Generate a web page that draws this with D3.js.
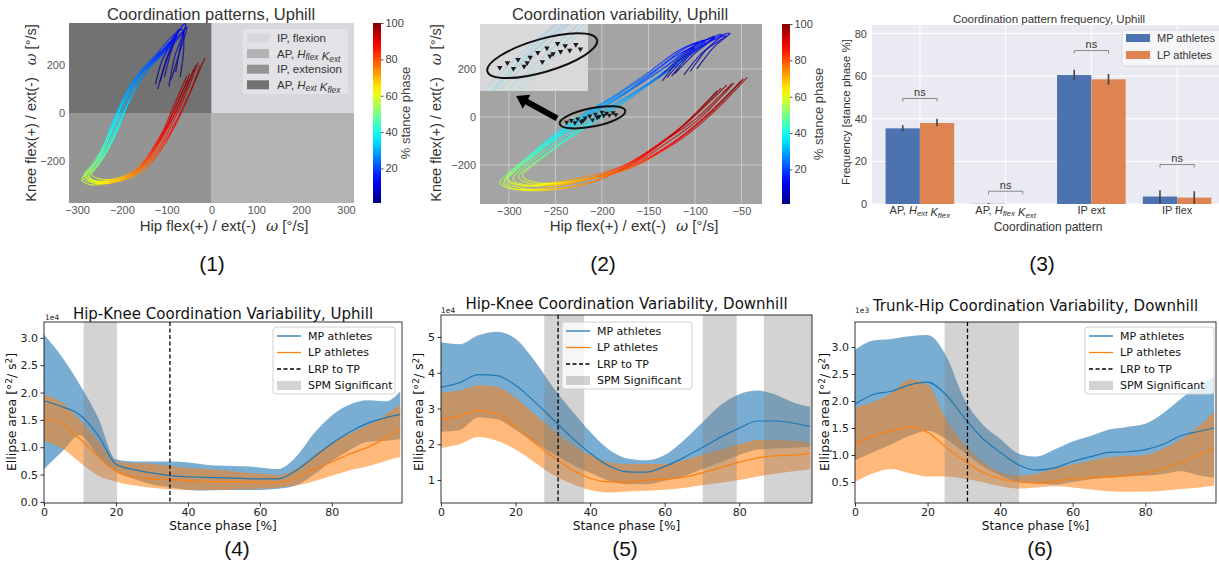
<!DOCTYPE html>
<html>
<head>
<meta charset="utf-8">
<script src="https://cdn.jsdelivr.net/npm/d3@7"></script>
<style>
  body { margin: 0; background: #fff; }
  svg { display: block; }
</style>
</head>
<body>
<svg id="fig" width="1219" height="563"></svg>
<script>
"use strict"
// ---------------- data ----------------
// (1) and (2): stance phase of every sampled point along a trajectory
var trajPhase = [0, 5, 10, 15, 20, 25, 30, 35, 40, 45, 50, 55, 60, 65, 70, 75, 80, 85, 90, 95, 100];

// (1) hip / knee angular velocity [deg/s], uphill, one list per stride
var patternStrides = [
    [[-120,100],[-100,220],[-72,350],[-85,300],[-125,225],[-158,160],[-185,75],[-205,-10],[-222,-95],[-242,-168],[-266,-228],[-283,-262],[-265,-284],[-232,-286],[-198,-272],[-168,-244],[-142,-196],[-118,-128],[-94,-48],[-66,60],[-40,180]],
    [[-90,140],[-70,260],[-55,360],[-70,320],[-105,250],[-140,185],[-170,100],[-192,15],[-210,-70],[-230,-150],[-252,-215],[-268,-255],[-248,-276],[-215,-274],[-182,-258],[-150,-225],[-122,-168],[-96,-92],[-70,0],[-42,110],[-15,230]],
    [[-125,120],[-112,210],[-90,300],[-108,265],[-148,195],[-180,120],[-205,30],[-222,-45],[-238,-125],[-255,-195],[-276,-245],[-290,-278],[-272,-298],[-240,-296],[-208,-282],[-180,-256],[-155,-212],[-130,-145],[-106,-65],[-82,40],[-55,155]],
    [[-80,170],[-68,290],[-58,375],[-78,330],[-115,240],[-148,165],[-176,78],[-196,-5],[-214,-88],[-236,-165],[-258,-228],[-272,-266],[-252,-290],[-222,-290],[-188,-274],[-158,-248],[-130,-198],[-104,-128],[-78,-40],[-50,75],[-25,200]],
    [[-105,150],[-92,245],[-78,330],[-100,270],[-140,200],[-170,135],[-196,50],[-214,-28],[-230,-108],[-250,-180],[-272,-238],[-287,-270],[-268,-290],[-238,-290],[-204,-276],[-174,-248],[-148,-202],[-124,-135],[-100,-55],[-74,50],[-48,165]],
    [[-95,110],[-82,235],[-62,340],[-80,305],[-118,230],[-152,158],[-180,70],[-200,-12],[-217,-92],[-237,-165],[-260,-226],[-276,-262],[-256,-284],[-226,-284],[-192,-270],[-160,-240],[-134,-188],[-108,-116],[-84,-30],[-56,85],[-30,210]],
    [[-115,130],[-98,240],[-82,310],[-98,280],[-135,210],[-166,145],[-194,58],[-212,-22],[-228,-100],[-246,-172],[-268,-232],[-280,-266],[-262,-290],[-234,-292],[-202,-280],[-176,-256],[-152,-214],[-128,-150],[-104,-72],[-80,30],[-52,140]],
    [[-70,150],[-62,270],[-66,350],[-90,315],[-128,235],[-160,170],[-188,88],[-208,5],[-226,-78],[-246,-155],[-268,-220],[-284,-258],[-266,-282],[-234,-282],[-200,-266],[-168,-236],[-140,-185],[-114,-112],[-88,-25],[-60,90],[-35,200]]
];
var quadrantNames = ["IP, flexion", "AP, H_flex K_ext", "IP, extension", "AP, H_ext K_flex"];
var quadrantSigns = [[1, 1], [1, -1], [-1, -1], [-1, 1]];

// (2) hip / knee angular velocity [deg/s], uphill, one list per stride
var variabilityStrides = [
    [[-125,170],[-105,260],[-80,330],[-100,300],[-135,200],[-170,110],[-200,35],[-228,-35],[-252,-100],[-272,-160],[-290,-215],[-302,-262],[-290,-285],[-265,-282],[-240,-265],[-212,-245],[-185,-215],[-160,-170],[-135,-105],[-100,-10],[-60,140]],
    [[-105,190],[-88,280],[-70,345],[-90,315],[-120,225],[-150,140],[-180,60],[-208,-10],[-234,-80],[-256,-142],[-276,-200],[-290,-250],[-278,-276],[-250,-276],[-222,-262],[-194,-240],[-168,-206],[-143,-155],[-116,-85],[-84,20],[-48,160]],
    [[-140,160],[-118,240],[-96,310],[-116,280],[-152,180],[-188,85],[-220,12],[-246,-55],[-266,-120],[-284,-180],[-300,-232],[-310,-275],[-298,-298],[-270,-300],[-244,-285],[-218,-262],[-194,-232],[-170,-190],[-145,-128],[-112,-32],[-72,120]],
    [[-112,175],[-92,268],[-66,340],[-88,305],[-124,205],[-160,115],[-192,40],[-220,-30],[-245,-95],[-266,-155],[-284,-210],[-296,-258],[-282,-282],[-254,-280],[-226,-265],[-198,-244],[-172,-212],[-148,-165],[-120,-98],[-86,8],[-50,150]],
    [[-130,165],[-110,250],[-88,320],[-108,292],[-144,192],[-180,100],[-212,25],[-238,-45],[-260,-108],[-279,-168],[-295,-222],[-305,-268],[-292,-292],[-264,-302],[-236,-292],[-210,-270],[-188,-234],[-166,-186],[-140,-120],[-108,-22],[-66,132]],
    [[-98,200],[-80,290],[-62,350],[-84,318],[-114,232],[-144,150],[-172,72],[-200,0],[-228,-70],[-252,-135],[-272,-195],[-286,-245],[-272,-272],[-244,-274],[-216,-258],[-188,-236],[-162,-200],[-138,-148],[-110,-78],[-78,28],[-44,165]],
    [[-122,180],[-100,265],[-78,335],[-98,302],[-132,208],[-168,118],[-202,42],[-230,-28],[-254,-94],[-274,-156],[-292,-210],[-302,-256],[-288,-282],[-260,-286],[-232,-272],[-206,-252],[-182,-222],[-158,-178],[-132,-112],[-98,-16],[-58,142]],
    [[-135,150],[-120,225],[-100,290],[-118,260],[-150,170],[-182,82],[-214,10],[-240,-58],[-262,-122],[-280,-182],[-296,-234],[-306,-276],[-294,-300],[-266,-306],[-240,-296],[-214,-275],[-190,-240],[-168,-196],[-144,-132],[-114,-40],[-76,110]]
];
// points inside the variability ellipse
var ellipsePoints = [[-238,-22],[-233,-14],[-229,-24],[-226,-8],[-222,-20],[-218,-4],[-213,4],[-210,-12],[-207,12],[-203,2],[-200,20],[-198,6],[-195,16],[-192,8],[-188,18],[-185,10],[-205,-2],[-220,-14]];
var colorbarTicks = [20, 40, 60, 80, 100];

// (3) coordination pattern frequency
var patternNames = ["AP, H_ext K_flex", "AP, H_flex K_ext", "IP ext", "IP flex"];
var groupNames = ["MP athletes", "LP athletes"];
var freqMP = [35.5, 0.1, 60.5, 3.5];
var freqLP = [38.0, 0.0, 58.5, 3.0];
var errMP = [[34.0, 37.0], [0.0, 0.5], [58.0, 63.0], [0.0, 6.5]];
var errLP = [[36.5, 40.0], [0.0, 0.0], [56.0, 61.0], [0.0, 6.0]];
var nsLevel = [49.5, 6.0, 72.0, 18.5];

// (4)-(6) ellipse area along stance phase
var stance = [0, 5, 10, 15, 20, 25, 30, 35, 40, 45, 50, 55, 60, 65, 70, 75, 80, 85, 90, 95, 99];

var hkUpMP   = [1.85, 1.74, 1.59, 1.22, 0.69, 0.59, 0.53, 0.48, 0.46, 0.45, 0.44, 0.43, 0.42, 0.42, 0.57, 0.82, 1.07, 1.28, 1.44, 1.54, 1.60];
var hkUpMPhi = [3.06, 2.65, 2.14, 1.55, 0.78, 0.74, 0.74, 0.74, 0.72, 0.68, 0.66, 0.65, 0.63, 0.60, 0.82, 1.25, 1.58, 1.78, 1.86, 1.84, 2.02];
var hkUpMPlo = [0.60, 0.92, 1.22, 0.85, 0.55, 0.42, 0.32, 0.27, 0.22, 0.21, 0.22, 0.22, 0.22, 0.24, 0.30, 0.50, 0.75, 0.95, 1.10, 1.12, 1.15];
var hkUpLP   = [1.53, 1.43, 1.15, 0.83, 0.56, 0.46, 0.42, 0.41, 0.39, 0.37, 0.37, 0.37, 0.36, 0.35, 0.44, 0.60, 0.73, 0.88, 1.00, 1.17, 1.32];
var hkUpLPhi = [1.96, 1.82, 1.50, 1.12, 0.74, 0.71, 0.70, 0.66, 0.62, 0.60, 0.58, 0.54, 0.52, 0.49, 0.60, 0.85, 1.08, 1.25, 1.40, 1.60, 1.78];
var hkUpLPlo = [1.12, 0.98, 0.72, 0.48, 0.37, 0.30, 0.26, 0.23, 0.22, 0.22, 0.22, 0.23, 0.24, 0.26, 0.30, 0.38, 0.48, 0.58, 0.65, 0.75, 0.82];
var hkUpSpm = [[11, 20.3]];
var hkUpLrp = 35;

var hkDownMP   = [3.60, 3.72, 3.95, 3.92, 3.65, 3.20, 2.70, 2.20, 1.75, 1.40, 1.23, 1.22, 1.38, 1.62, 1.90, 2.20, 2.45, 2.65, 2.65, 2.58, 2.50];
var hkDownMPhi = [4.85, 4.80, 5.05, 5.15, 4.95, 4.35, 3.60, 2.95, 2.35, 1.85, 1.60, 1.55, 1.70, 2.10, 2.60, 3.10, 3.40, 3.50, 3.38, 3.15, 3.05];
var hkDownMPlo = [2.35, 2.40, 2.75, 2.70, 2.40, 2.05, 1.75, 1.45, 1.20, 0.98, 0.88, 0.88, 0.98, 1.10, 1.30, 1.50, 1.70, 1.85, 1.88, 1.90, 1.92];
var hkDownLP   = [2.70, 2.78, 2.95, 2.85, 2.50, 2.05, 1.65, 1.30, 1.05, 0.95, 0.95, 1.00, 1.02, 1.08, 1.20, 1.35, 1.50, 1.62, 1.68, 1.70, 1.75];
var hkDownLPhi = [3.45, 3.50, 3.65, 3.60, 3.30, 2.85, 2.40, 2.00, 1.70, 1.50, 1.45, 1.45, 1.45, 1.55, 1.70, 1.85, 2.00, 2.12, 2.12, 2.10, 2.05];
var hkDownLPlo = [1.90, 2.00, 2.20, 2.10, 1.85, 1.50, 1.15, 0.90, 0.72, 0.65, 0.68, 0.70, 0.73, 0.78, 0.85, 0.92, 1.00, 1.10, 1.18, 1.25, 1.30];
var hkDownSpm = [[27.7, 38.4], [70.2, 79.3], [86.6, 99.5]];
var hkDownLrp = 31.4;

var thDownMP   = [1.94, 2.12, 2.18, 2.30, 2.35, 2.12, 1.70, 1.32, 1.05, 0.82, 0.72, 0.76, 0.88, 0.97, 1.05, 1.06, 1.10, 1.20, 1.36, 1.44, 1.50];
var thDownMPhi = [2.95, 3.12, 3.15, 3.20, 3.22, 2.85, 2.05, 1.58, 1.30, 1.03, 0.97, 1.10, 1.25, 1.35, 1.47, 1.52, 1.58, 1.78, 2.05, 2.30, 2.45];
var thDownMPlo = [0.90, 1.05, 1.20, 1.35, 1.45, 1.30, 1.05, 0.80, 0.62, 0.50, 0.48, 0.45, 0.50, 0.55, 0.58, 0.60, 0.62, 0.65, 0.70, 0.62, 0.58];
var thDownLP   = [1.20, 1.35, 1.45, 1.52, 1.42, 1.15, 0.90, 0.69, 0.56, 0.50, 0.48, 0.52, 0.56, 0.58, 0.60, 0.62, 0.67, 0.75, 0.87, 1.00, 1.12];
var thDownLPhi = [1.88, 1.98, 2.15, 2.40, 2.30, 1.68, 1.20, 0.88, 0.68, 0.62, 0.65, 0.75, 0.82, 0.90, 0.96, 0.98, 1.00, 1.12, 1.30, 1.55, 1.80];
var thDownLPlo = [0.50, 0.66, 0.74, 0.66, 0.60, 0.60, 0.56, 0.50, 0.42, 0.38, 0.40, 0.42, 0.40, 0.36, 0.33, 0.32, 0.32, 0.34, 0.37, 0.40, 0.43];
var thDownSpm = [[24.7, 45.2]];
var thDownLrp = 31;

// ---------------- helpers ----------------
var svg = d3.select("#fig");
var defs = svg.append("defs");
var ARIAL = "'Liberation Sans', Arial, sans-serif";
var DEJAVU = "'DejaVu Sans', sans-serif";

// matplotlib "jet" colormap
function jet(t) {
    t = Math.max(0, Math.min(1, t));
    var c = function (v) { return Math.round(255 * Math.max(0, Math.min(1, v))); };
    return "rgb(" + c(1.5 - Math.abs(4 * t - 3)) + "," + c(1.5 - Math.abs(4 * t - 2)) + "," + c(1.5 - Math.abs(4 * t - 1)) + ")";
}

function clip(id, x0, y0, w, h) {
    defs.append("clipPath").attr("id", id).append("rect")
        .attr("x", x0).attr("y", y0).attr("width", w).attr("height", h);
    return "url(#" + id + ")";
}

// writes "AP, H_ext K_flex" with italic letters and subscripts
function richText(sel, str) {
    str.split(" ").forEach(function (tok, i) {
        var pre = i ? " " : "";
        if (tok.indexOf("_") < 0) { sel.append("tspan").text(pre + tok); return; }
        var parts = tok.split("_");
        sel.append("tspan").text(pre);
        sel.append("tspan").attr("font-style", "italic").text(parts[0]);
        sel.append("tspan").attr("font-style", "italic").attr("font-size", "0.72em").attr("dy", 2.2).text(parts[1]);
        sel.append("tspan").attr("dy", -2.2).text("");
    });
}

// a trajectory, colored along its length by stance phase
function drawStride(g, pts, x, y, width, opacity) {
    var line = d3.line().x(function (d) { return x(d[0]); }).y(function (d) { return y(d[1]); })
        .curve(d3.curveCatmullRom.alpha(0.5));
    var probe = g.append("path").attr("fill", "none");
    var lens = pts.map(function (p, i) {
        if (i === 0) return 0;
        probe.attr("d", line(pts.slice(0, i + 1)));
        return probe.node().getTotalLength();
    });
    probe.attr("d", line(pts));
    var node = probe.node(), total = node.getTotalLength();
    var n = 150, prev = node.getPointAtLength(0);
    for (var k = 1; k <= n; k++) {
        var p = node.getPointAtLength(total * k / n);
        var mid = total * (k - 0.5) / n;
        var i = Math.max(0, Math.min(d3.bisectRight(lens, mid) - 1, lens.length - 2));
        var f = (mid - lens[i]) / ((lens[i + 1] - lens[i]) || 1);
        var phase = trajPhase[i] + f * (trajPhase[i + 1] - trajPhase[i]);
        g.append("line")
            .attr("x1", prev.x).attr("y1", prev.y).attr("x2", p.x).attr("y2", p.y)
            .attr("stroke", jet(phase / 100)).attr("stroke-width", width)
            .attr("stroke-opacity", opacity);
        prev = p;
    }
    probe.remove();
}

function colorbar(x0, top, bottom, labelX) {
    var grad = defs.append("linearGradient").attr("id", "jet" + x0)
        .attr("x1", 0).attr("y1", 1).attr("x2", 0).attr("y2", 0);
    d3.range(0, 1.0001, 0.05).forEach(function (t) {
        grad.append("stop").attr("offset", t).attr("stop-color", jet(t));
    });
    svg.append("rect").attr("x", x0).attr("y", top).attr("width", 8).attr("height", bottom - top)
        .attr("fill", "url(#jet" + x0 + ")");
    var s = d3.scaleLinear().domain([1, 100]).range([bottom, top]);
    var ax = svg.append("g").attr("transform", "translate(" + (x0 + 8) + ",0)")
        .call(d3.axisRight(s).tickValues(colorbarTicks).tickSize(2.5).tickPadding(2));
    ax.select(".domain").remove();
    ax.selectAll("line").attr("stroke", "#555");
    ax.selectAll("text").attr("font-family", ARIAL).attr("font-size", 11).attr("fill", "#444");
    svg.append("text").attr("transform", "translate(" + labelX + "," + ((top + bottom) / 2) + ") rotate(-90)")
        .attr("text-anchor", "middle").attr("dy", "0.35em")
        .attr("font-family", ARIAL).attr("font-size", 13).attr("fill", "#444").text("% stance phase");
}

function omegaLabel(sel, main, gap) {
    sel.append("tspan").text(main);
    sel.append("tspan").attr("dx", gap).attr("font-style", "italic").attr("font-family", "'DejaVu Serif', serif").text("ω");
    sel.append("tspan").text(" [°/s]");
}

function plainAxes(g, x, y, xt, yt, box) {
    var ax = g.append("g").attr("transform", "translate(0," + (box.bottom + 1) + ")")
        .call(d3.axisBottom(x).tickValues(xt).tickSize(0).tickPadding(2));
    var ay = g.append("g").attr("transform", "translate(" + (box.left - 3) + ",0)")
        .call(d3.axisLeft(y).tickValues(yt).tickSize(0).tickPadding(1));
    [ax, ay].forEach(function (a) {
        a.select(".domain").remove();
        a.selectAll("text").attr("font-family", ARIAL).attr("font-size", 11).attr("fill", "#555");
    });
}

function panelLabel(txt, cx, base) {
    svg.append("text").attr("x", cx).attr("y", base).attr("text-anchor", "middle")
        .attr("font-family", ARIAL).attr("font-size", 21).attr("fill", "#111").text(txt);
}

// ---------------- (1) coordination patterns ----------------
(function () {
    var box = {left: 69, right: 354, top: 23, bottom: 203};
    var x = d3.scaleLinear().domain([-318, 318]).range([box.left, box.right]);
    var y = d3.scaleLinear().domain([-375, 375]).range([box.bottom, box.top]);
    var quadColors = ["#d7d7dc", "#b3b3b6", "#949494", "#727272"];
    var g = svg.append("g");
    quadrantSigns.forEach(function (s, i) {
        var xs = [0, s[0] > 0 ? x.domain()[1] : x.domain()[0]];
        var ys = [0, s[1] > 0 ? y.domain()[1] : y.domain()[0]];
        g.append("rect")
            .attr("x", x(d3.min(xs))).attr("width", x(d3.max(xs)) - x(d3.min(xs)))
            .attr("y", y(d3.max(ys))).attr("height", y(d3.min(ys)) - y(d3.max(ys)))
            .attr("fill", quadColors[i]);
    });
    var lines = g.append("g").attr("clip-path", clip("c1", box.left, box.top, box.right - box.left, box.bottom - box.top));
    patternStrides.forEach(function (s) { drawStride(lines, s, x, y, 1.2, 0.8); });

    // legend
    var lg = g.append("g").attr("transform", "translate(" + (box.right - 111) + "," + (box.top + 6) + ")");
    lg.append("rect").attr("width", 105).attr("height", 65).attr("rx", 2).attr("fill", "#e3e3e7");
    quadrantNames.forEach(function (name, i) {
        var row = lg.append("g").attr("transform", "translate(4," + (9 + i * 15.6) + ")");
        row.append("rect").attr("y", -4.5).attr("width", 22).attr("height", 9).attr("fill", quadColors[i]);
        var t = row.append("text").attr("x", 30).attr("dy", "0.35em")
            .attr("font-family", ARIAL).attr("font-size", 11.5).attr("fill", "#333");
        richText(t, name);
    });

    plainAxes(g, x, y, [-300, -200, -100, 0, 100, 200, 300], [-200, 0, 200], box);
    g.append("text").attr("x", 211).attr("y", 20).attr("text-anchor", "middle")
        .attr("font-family", ARIAL).attr("font-size", 16.5).attr("fill", "#333").text("Coordination patterns, Uphill");
    omegaLabel(g.append("text").attr("x", 224).attr("y", 231).attr("text-anchor", "middle")
        .attr("font-family", ARIAL).attr("font-size", 15).attr("fill", "#333"), "Hip flex(+) / ext(-)", 10);
    omegaLabel(g.append("text").attr("transform", "translate(36,113) rotate(-90)").attr("text-anchor", "middle")
        .attr("font-family", ARIAL).attr("font-size", 14.5).attr("fill", "#333"), "Knee flex(+) / ext(-)", 12);
    colorbar(373, box.top, box.bottom, 405);
})();

// ---------------- (2) coordination variability ----------------
(function () {
    var box = {left: 480, right: 762, top: 24, bottom: 204};
    var x = d3.scaleLinear().domain([-331, -28]).range([box.left, box.right]);
    var y = d3.scaleLinear().domain([-362, 387]).range([box.bottom, box.top]);
    var xt = [-300, -250, -200, -150, -100, -50], yt = [-200, 0, 200];
    var g = svg.append("g");
    g.append("rect").attr("x", box.left).attr("y", box.top).attr("width", box.right - box.left)
        .attr("height", box.bottom - box.top).attr("fill", "#a4a4a4");
    xt.forEach(function (v) {
        g.append("line").attr("x1", x(v)).attr("x2", x(v)).attr("y1", box.top).attr("y2", box.bottom)
            .attr("stroke", "#c9c9c9").attr("stroke-width", 1);
    });
    yt.forEach(function (v) {
        g.append("line").attr("y1", y(v)).attr("y2", y(v)).attr("x1", box.left).attr("x2", box.right)
            .attr("stroke", "#c9c9c9").attr("stroke-width", 1);
    });
    var lines = g.append("g").attr("clip-path", clip("c2", box.left, box.top, box.right - box.left, box.bottom - box.top));
    variabilityStrides.forEach(function (s) { drawStride(lines, s, x, y, 1.2, 0.8); });

    function ellipseAround(layer, xs, ys, padA, padB, markSize) {
        var pts = ellipsePoints.map(function (d) { return [xs(d[0]), ys(d[1])]; });
        var cx = d3.mean(pts, function (p) { return p[0]; }), cy = d3.mean(pts, function (p) { return p[1]; });
        var sxy = d3.sum(pts, function (p) { return (p[0] - cx) * (p[1] - cy); });
        var sxx = d3.sum(pts, function (p) { return (p[0] - cx) * (p[0] - cx); });
        var ang = Math.atan(sxy / sxx);
        var a = d3.max(pts, function (p) { return Math.abs((p[0] - cx) * Math.cos(ang) + (p[1] - cy) * Math.sin(ang)); }) + padA;
        var b = d3.max(pts, function (p) { return Math.abs(-(p[0] - cx) * Math.sin(ang) + (p[1] - cy) * Math.cos(ang)); }) + padB;
        pts.forEach(function (p) {
            layer.append("path").attr("d", d3.symbol().type(d3.symbolTriangle).size(markSize)())
                .attr("transform", "translate(" + p[0] + "," + p[1] + ") rotate(180)").attr("fill", "#1a1a1a");
        });
        layer.append("ellipse").attr("cx", cx).attr("cy", cy).attr("rx", a).attr("ry", b)
            .attr("transform", "rotate(" + (ang * 180 / Math.PI) + "," + cx + "," + cy + ")")
            .attr("fill", "none").attr("stroke", "#111").attr("stroke-width", 2);
        return {cx: cx, cy: cy, a: a, b: b};
    }
    var main = ellipseAround(g, x, y, 7, 6, 11);

    // magnified inset of the ellipse region
    var inset = {left: box.left, top: box.top, w: 108, h: 67};
    var xi = d3.scaleLinear().domain([-251, -180]).range([inset.left, inset.left + inset.w]);
    var yi = d3.scaleLinear().domain([-63, 54]).range([inset.top + inset.h, inset.top]);
    var ig = g.append("g");
    ig.append("rect").attr("x", inset.left).attr("y", inset.top).attr("width", inset.w).attr("height", inset.h)
        .attr("fill", "#d9d9d9");
    var il = ig.append("g").attr("clip-path", clip("c2i", inset.left, inset.top, inset.w, inset.h));
    variabilityStrides.forEach(function (s) { drawStride(il, s, xi, yi, 1, 0.3); });
    ellipseAround(ig, xi, yi, 13, 9, 13);

    // arrow from the ellipse to the inset
    var tail = [main.cx - main.a - 2, main.cy + 1], tip = [tail[0] - 41, inset.top + inset.h + 5];
    var dx = tip[0] - tail[0], dy = tip[1] - tail[1], len = Math.hypot(dx, dy);
    var ux = dx / len, uy = dy / len, nx = -uy, ny = ux, hw = 3, hh = 8, hl = 12;
    var hb = [tip[0] - ux * hl, tip[1] - uy * hl];
    var poly = [
        [tail[0] + nx * hw, tail[1] + ny * hw], [hb[0] + nx * hw, hb[1] + ny * hw], [hb[0] + nx * hh, hb[1] + ny * hh],
        tip, [hb[0] - nx * hh, hb[1] - ny * hh], [hb[0] - nx * hw, hb[1] - ny * hw], [tail[0] - nx * hw, tail[1] - ny * hw]
    ];
    g.append("polygon").attr("points", poly.map(function (p) { return p.join(","); }).join(" ")).attr("fill", "#000");

    plainAxes(g, x, y, xt, yt, box);
    g.append("text").attr("x", 620).attr("y", 20).attr("text-anchor", "middle")
        .attr("font-family", ARIAL).attr("font-size", 16.5).attr("fill", "#333").text("Coordination variability, Uphill");
    omegaLabel(g.append("text").attr("x", 634).attr("y", 231).attr("text-anchor", "middle")
        .attr("font-family", ARIAL).attr("font-size", 15).attr("fill", "#333"), "Hip flex(+) / ext(-)", 10);
    omegaLabel(g.append("text").attr("transform", "translate(441,113) rotate(-90)").attr("text-anchor", "middle")
        .attr("font-family", ARIAL).attr("font-size", 14.5).attr("fill", "#333"), "Knee flex(+) / ext(-)", 12);
    colorbar(782, box.top, box.bottom, 818);
})();

// ---------------- (3) pattern frequency ----------------
(function () {
    var box = {left: 872, right: 1219, top: 25, bottom: 204};
    var x = d3.scaleBand().domain(patternNames).range([877, 1220]);
    var xg = d3.scaleBand().domain(groupNames).range([-x.bandwidth() * 0.4, x.bandwidth() * 0.4]);
    var y = d3.scaleLinear().domain([0, 84]).range([box.bottom, box.top]);
    var colors = ["#4c72b0", "#dd8452"];
    var vals = [freqMP, freqLP], errs = [errMP, errLP];
    var g = svg.append("g");
    g.append("rect").attr("x", box.left).attr("y", box.top).attr("width", box.right - box.left)
        .attr("height", box.bottom - box.top).attr("fill", "#eaeaf2");
    y.ticks(5).forEach(function (v) {
        g.append("line").attr("x1", box.left).attr("x2", box.right).attr("y1", y(v)).attr("y2", y(v))
            .attr("stroke", "#fff").attr("stroke-width", 1);
    });
    patternNames.forEach(function (c) {
        var cx = x(c) + x.bandwidth() / 2;
        g.append("line").attr("x1", cx).attr("x2", cx).attr("y1", box.top).attr("y2", box.bottom)
            .attr("stroke", "#fff").attr("stroke-width", 1);
    });
    patternNames.forEach(function (c, i) {
        var cx = x(c) + x.bandwidth() / 2;
        groupNames.forEach(function (gn, j) {
            var bx = cx + xg(gn);
            g.append("rect").attr("x", bx).attr("width", xg.bandwidth())
                .attr("y", y(vals[j][i])).attr("height", y(0) - y(vals[j][i])).attr("fill", colors[j]);
            var mx = bx + xg.bandwidth() / 2;
            if (errs[j][i][1] > errs[j][i][0]) {
                g.append("line").attr("x1", mx).attr("x2", mx).attr("y1", y(errs[j][i][0])).attr("y2", y(errs[j][i][1]))
                    .attr("stroke", "#444").attr("stroke-width", 1.6);
            }
        });
        // "ns" bracket
        var xa = cx + xg(groupNames[0]) + xg.bandwidth() / 2, xb = cx + xg(groupNames[1]) + xg.bandwidth() / 2;
        var yb = y(nsLevel[i]);
        g.append("path").attr("d", "M" + xa + "," + (yb + 3) + "V" + yb + "H" + xb + "V" + (yb + 3))
            .attr("fill", "none").attr("stroke", "#888").attr("stroke-width", 1);
        g.append("text").attr("x", (xa + xb) / 2).attr("y", yb - 2.5).attr("text-anchor", "middle")
            .attr("font-family", ARIAL).attr("font-size", 11).attr("fill", "#333").text("ns");
    });
    var ay = g.append("g").attr("transform", "translate(" + (box.left - 3) + ",0)")
        .call(d3.axisLeft(y).ticks(5).tickSize(0).tickPadding(2));
    ay.select(".domain").remove();
    ay.selectAll("text").attr("font-family", ARIAL).attr("font-size", 11).attr("fill", "#444");
    patternNames.forEach(function (c) {
        var t = g.append("text").attr("x", x(c) + x.bandwidth() / 2).attr("y", 214).attr("text-anchor", "middle")
            .attr("font-family", ARIAL).attr("font-size", 11).attr("fill", "#333");
        richText(t, c);
    });
    g.append("text").attr("x", 1048).attr("y", 231).attr("text-anchor", "middle")
        .attr("font-family", ARIAL).attr("font-size", 12).attr("fill", "#333").text("Coordination pattern");
    g.append("text").attr("transform", "translate(850,112) rotate(-90)").attr("text-anchor", "middle")
        .attr("font-family", ARIAL).attr("font-size", 11.5).attr("fill", "#333").text("Frequency [stance phase %]");
    g.append("text").attr("x", 1049).attr("y", 23).attr("text-anchor", "middle")
        .attr("font-family", ARIAL).attr("font-size", 11.5).attr("fill", "#333").text("Coordination pattern frequency, Uphill");
    var lg = g.append("g").attr("transform", "translate(1122,30)");
    lg.append("rect").attr("width", 110).attr("height", 36).attr("rx", 3)
        .attr("fill", "#f6f6f9").attr("stroke", "#d8d8de");
    groupNames.forEach(function (gn, j) {
        lg.append("rect").attr("x", 4).attr("y", 8 + j * 17 - 4).attr("width", 24).attr("height", 8).attr("fill", colors[j]);
        lg.append("text").attr("x", 35).attr("y", 8 + j * 17).attr("dy", "0.35em")
            .attr("font-family", ARIAL).attr("font-size", 11).attr("fill", "#333").text(gn);
    });
})();

// ---------------- (4)-(6) variability along stance ----------------
function stancePanel(cfg) {
    var x = d3.scaleLinear().domain([0, 99.5]).range([cfg.left, cfg.right]);
    var y = d3.scaleLinear().domain(cfg.ydom).range([cfg.bottom, cfg.top]);
    var g = svg.append("g");
    var inner = g.append("g").attr("clip-path", clip(cfg.id, cfg.left, cfg.top, cfg.right - cfg.left, cfg.bottom - cfg.top));
    function band(lo, hi) {
        return d3.area().x(function (d, i) { return x(stance[i]); })
            .y0(function (d, i) { return y(lo[i]); }).y1(function (d, i) { return y(hi[i]); })
            .curve(d3.curveMonotoneX)(stance);
    }
    function mean(v) {
        return d3.line().x(function (d, i) { return x(stance[i]); }).y(function (d, i) { return y(v[i]); })
            .curve(d3.curveMonotoneX)(stance);
    }
    inner.append("path").attr("d", band(cfg.mpLo, cfg.mpHi)).attr("fill", "#1f77b4").attr("fill-opacity", 0.6);
    inner.append("path").attr("d", band(cfg.lpLo, cfg.lpHi)).attr("fill", "#ff7f0e").attr("fill-opacity", 0.55);
    cfg.spm.forEach(function (s) {
        inner.append("rect").attr("x", x(s[0])).attr("width", x(s[1]) - x(s[0]))
            .attr("y", cfg.top).attr("height", cfg.bottom - cfg.top).attr("fill", "#808080").attr("fill-opacity", 0.35);
    });
    inner.append("path").attr("d", mean(cfg.mp)).attr("fill", "none").attr("stroke", "#1f77b4").attr("stroke-width", 1.2);
    inner.append("path").attr("d", mean(cfg.lp)).attr("fill", "none").attr("stroke", "#ff7f0e").attr("stroke-width", 1.2);
    inner.append("line").attr("x1", x(cfg.lrp)).attr("x2", x(cfg.lrp)).attr("y1", cfg.top).attr("y2", cfg.bottom)
        .attr("stroke", "#000").attr("stroke-width", 1.3).attr("stroke-dasharray", "4,2.5");

    g.append("rect").attr("x", cfg.left).attr("y", cfg.top).attr("width", cfg.right - cfg.left)
        .attr("height", cfg.bottom - cfg.top).attr("fill", "none").attr("stroke", "#000").attr("stroke-width", 0.8);
    var ax = g.append("g").attr("transform", "translate(0," + cfg.bottom + ")")
        .call(d3.axisBottom(x).tickValues([0, 20, 40, 60, 80]).tickSize(3.5).tickPadding(1.5));
    var ay = g.append("g").attr("transform", "translate(" + cfg.left + ",0)")
        .call(d3.axisLeft(y).tickValues(cfg.yticks).tickFormat(d3.format(cfg.fmt)).tickSize(3.5).tickPadding(2.5));
    [ax, ay].forEach(function (a) {
        a.select(".domain").remove();
        a.selectAll("line").attr("stroke", "#000").attr("stroke-width", 0.8);
        a.selectAll("text").attr("font-family", DEJAVU).attr("font-size", 11).attr("fill", "#222");
    });
    g.append("text").attr("x", cfg.expX).attr("y", cfg.expY).attr("font-family", DEJAVU).attr("font-size", 7.5)
        .attr("fill", "#222").text(cfg.exp);
    g.append("text").attr("x", (cfg.left + cfg.right) / 2).attr("y", cfg.titleY).attr("text-anchor", "middle")
        .attr("font-family", DEJAVU).attr("font-size", 15).attr("fill", "#111").text(cfg.title);
    g.append("text").attr("x", (cfg.left + cfg.right) / 2).attr("y", cfg.bottom + 27).attr("text-anchor", "middle")
        .attr("font-family", DEJAVU).attr("font-size", 12.2).attr("fill", "#111").text("Stance phase [%]");
    var yl = g.append("text").attr("transform", "translate(" + cfg.ylabX + ",412) rotate(-90)").attr("text-anchor", "middle")
        .attr("font-family", DEJAVU).attr("font-size", 12.5).attr("fill", "#111");
    yl.append("tspan").text("Ellipse area [°");
    yl.append("tspan").attr("dy", -4).attr("font-size", "0.7em").text("2");
    yl.append("tspan").attr("dy", 4).text("/ s");
    yl.append("tspan").attr("dy", -4).attr("font-size", "0.7em").text("2");
    yl.append("tspan").attr("dy", 4).text("]");

    // legend
    var lg = g.append("g").attr("transform", "translate(" + cfg.leg[0] + "," + cfg.leg[1] + ")");
    lg.append("rect").attr("width", cfg.leg[2]).attr("height", 67).attr("rx", 3)
        .attr("fill", "#fff").attr("fill-opacity", 0.8).attr("stroke", "#d0d0d0");
    var items = [["MP athletes", "mp"], ["LP athletes", "lp"], ["LRP to TP", "lrp"], ["SPM Significant", "spm"]];
    items.forEach(function (it, i) {
        var ry = 9 + i * 16.5;
        if (it[1] === "spm") {
            lg.append("rect").attr("x", 4).attr("y", ry - 4.5).attr("width", 24).attr("height", 9)
                .attr("fill", "#808080").attr("fill-opacity", 0.35);
        } else {
            lg.append("line").attr("x1", 4).attr("x2", 28).attr("y1", ry).attr("y2", ry)
                .attr("stroke", it[1] === "mp" ? "#1f77b4" : it[1] === "lp" ? "#ff7f0e" : "#000")
                .attr("stroke-width", it[1] === "lrp" ? 1.5 : 1.3)
                .attr("stroke-dasharray", it[1] === "lrp" ? "4,2.5" : null);
        }
        lg.append("text").attr("x", 35).attr("y", ry).attr("dy", "0.35em")
            .attr("font-family", DEJAVU).attr("font-size", 11).attr("fill", "#111").text(it[0]);
    });
}

stancePanel({
    id: "c4", left: 44, right: 402, top: 322, bottom: 503, ydom: [-0.02, 3.29],
    yticks: [0, 0.5, 1.0, 1.5, 2.0, 2.5, 3.0], fmt: ".1f", exp: "1e4", expX: 45, expY: 320,
    title: "Hip-Knee Coordination Variability, Uphill", titleY: 319, ylabX: 16, leg: [273, 327, 122],
    mp: hkUpMP, mpLo: hkUpMPlo, mpHi: hkUpMPhi, lp: hkUpLP, lpLo: hkUpLPlo, lpHi: hkUpLPhi,
    spm: hkUpSpm, lrp: hkUpLrp
});
stancePanel({
    id: "c5", left: 441, right: 812, top: 315, bottom: 503, ydom: [0.357, 5.615],
    yticks: [1, 2, 3, 4, 5], fmt: "d", exp: "1e4", expX: 441, expY: 313,
    title: "Hip-Knee Coordination Variability, Downhill", titleY: 309, ylabX: 423, leg: [562, 322, 130],
    mp: hkDownMP, mpLo: hkDownMPlo, mpHi: hkDownMPhi, lp: hkDownLP, lpLo: hkDownLPlo, lpHi: hkDownLPhi,
    spm: hkDownSpm, lrp: hkDownLrp
});
stancePanel({
    id: "c6", left: 855, right: 1216, top: 322, bottom: 503, ydom: [0.111, 3.463],
    yticks: [0.5, 1.0, 1.5, 2.0, 2.5, 3.0], fmt: ".1f", exp: "1e3", expX: 855, expY: 313,
    title: "Trunk-Hip Coordination Variability, Downhill", titleY: 311, ylabX: 829, leg: [1085, 327, 129],
    mp: thDownMP, mpLo: thDownMPlo, mpHi: thDownMPhi, lp: thDownLP, lpLo: thDownLPlo, lpHi: thDownLPhi,
    spm: thDownSpm, lrp: thDownLrp
});

panelLabel("(1)", 212, 271);
panelLabel("(2)", 603, 271);
panelLabel("(3)", 1042, 271);
panelLabel("(4)", 237, 556);
panelLabel("(5)", 625, 556);
panelLabel("(6)", 1040, 556);
</script>
</body>
</html>
